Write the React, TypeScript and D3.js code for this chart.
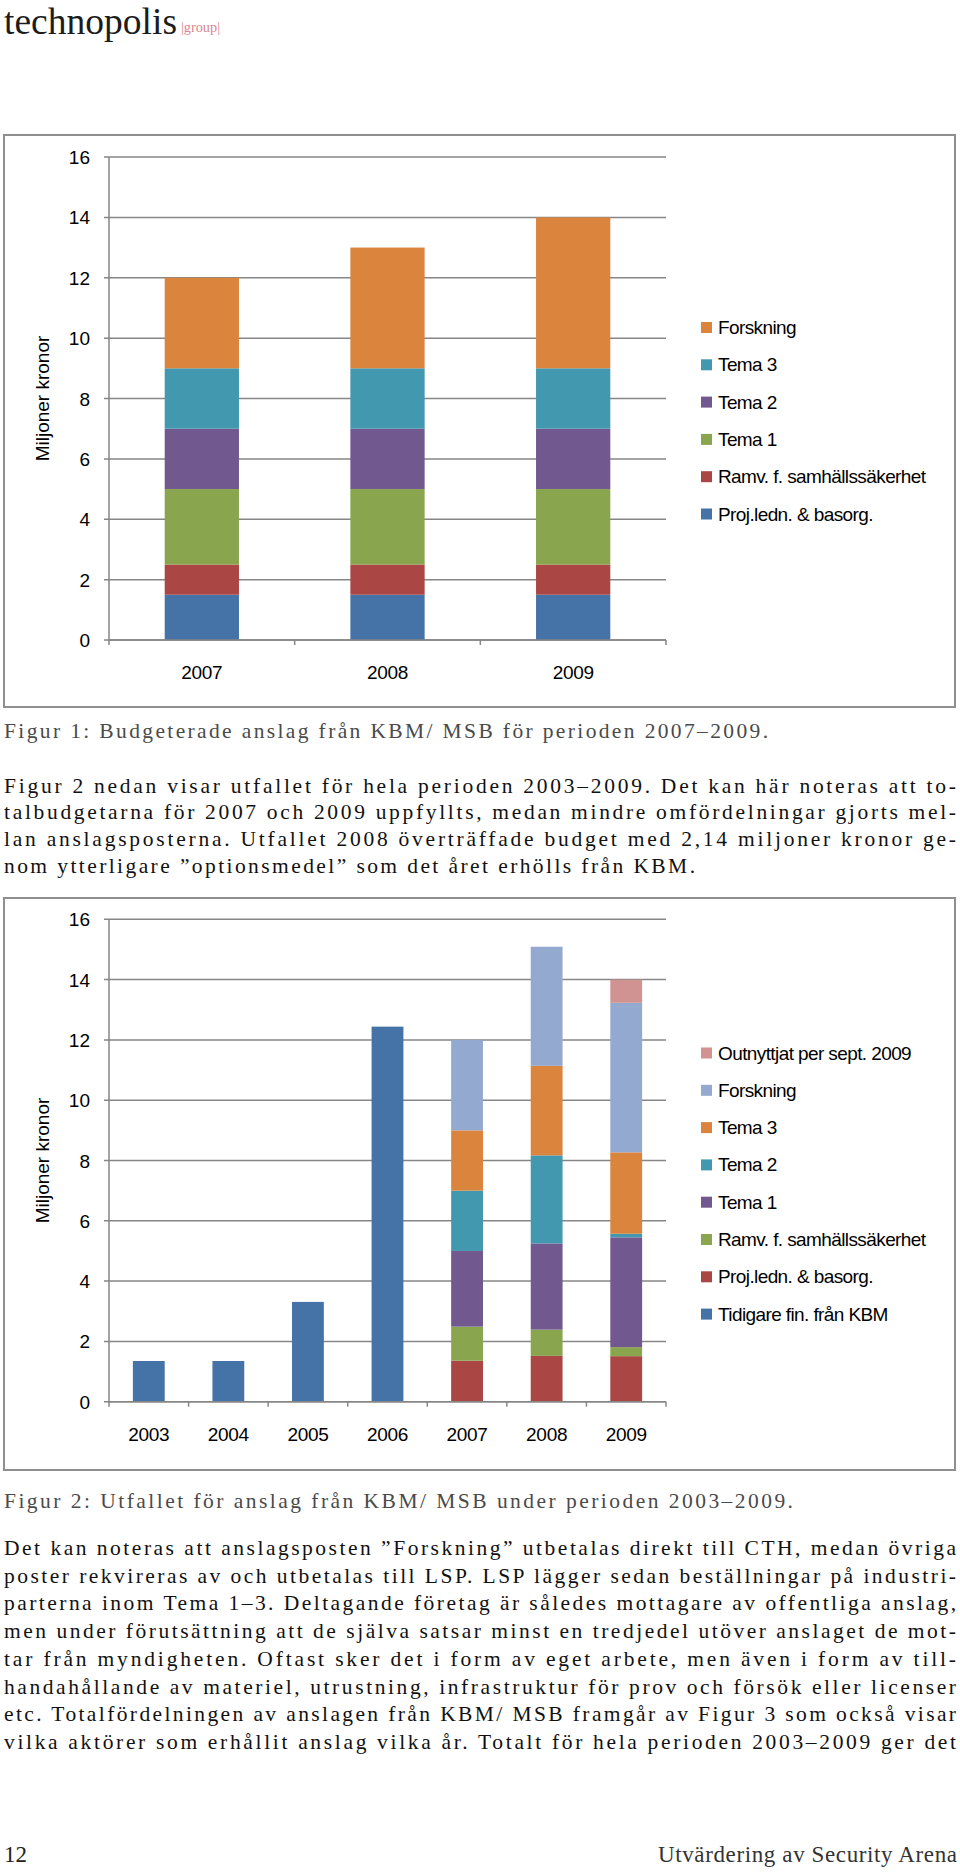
import React from "react";
import * as d3 from "d3";

// ---------- Figure 1 data ----------
const years1 = ["2007", "2008", "2009"];
const projLedn1 = [1.5, 1.5, 1.5];
const ramv1 = [1.0, 1.0, 1.0];
const temaEtt1 = [2.5, 2.5, 2.5];
const temaTva1 = [2.0, 2.0, 2.0];
const temaTre1 = [2.0, 2.0, 2.0];
const forskning1 = [3.0, 4.0, 5.0];

// ---------- Figure 2 data ----------
const years2 = ["2003", "2004", "2005", "2006", "2007", "2008", "2009"];
const tidigare2 = [1.35, 1.35, 3.31, 12.44, 0, 0, 0];
const projLedn2 = [0, 0, 0, 0, 1.36, 1.52, 1.51];
const ramv2 = [0, 0, 0, 0, 1.13, 0.87, 0.3];
const temaEtt2 = [0, 0, 0, 0, 2.51, 2.86, 3.64];
const temaTva2 = [0, 0, 0, 0, 2.0, 2.92, 0.12];
const temaTre2 = [0, 0, 0, 0, 2.0, 2.97, 2.7];
const forskning2 = [0, 0, 0, 0, 3.0, 3.95, 4.96];
const outnyttjat2 = [0, 0, 0, 0, 0, 0, 0.77];

const yTicks = [0, 2, 4, 6, 8, 10, 12, 14, 16];

const C = {
  blue: "#4572A7",
  red: "#AA4643",
  green: "#89A54E",
  purple: "#71588F",
  teal: "#4198AF",
  orange: "#DB843D",
  lightblue: "#93A9CF",
  pink: "#D19392",
};

const series1 = [
  { name: "Proj.ledn. & basorg.", color: C.blue, values: projLedn1 },
  { name: "Ramv. f. samhällssäkerhet", color: C.red, values: ramv1 },
  { name: "Tema 1", color: C.green, values: temaEtt1 },
  { name: "Tema 2", color: C.purple, values: temaTva1 },
  { name: "Tema 3", color: C.teal, values: temaTre1 },
  { name: "Forskning", color: C.orange, values: forskning1 },
];

const series2 = [
  { name: "Tidigare fin. från KBM", color: C.blue, values: tidigare2 },
  { name: "Proj.ledn. & basorg.", color: C.red, values: projLedn2 },
  { name: "Ramv. f. samhällssäkerhet", color: C.green, values: ramv2 },
  { name: "Tema 1", color: C.purple, values: temaEtt2 },
  { name: "Tema 2", color: C.teal, values: temaTva2 },
  { name: "Tema 3", color: C.orange, values: temaTre2 },
  { name: "Forskning", color: C.lightblue, values: forskning2 },
  { name: "Outnyttjat per sept. 2009", color: C.pink, values: outnyttjat2 },
];

// ---------- Text ----------
const caption1 = "Figur 1: Budgeterade anslag från KBM/ MSB för perioden 2007–2009.";
const para1 = [
  "Figur 2 nedan visar utfallet för hela perioden 2003–2009. Det kan här noteras att to-",
  "talbudgetarna för 2007 och 2009 uppfyllts, medan mindre omfördelningar gjorts mel-",
  "lan anslagsposterna. Utfallet 2008 överträffade budget med 2,14 miljoner kronor ge-",
  "nom ytterligare ”optionsmedel” som det året erhölls från KBM.",
];
const caption2 = "Figur 2: Utfallet för anslag från KBM/ MSB under perioden 2003–2009.";
const para2 = [
  "Det kan noteras att anslagsposten ”Forskning” utbetalas direkt till CTH, medan övriga",
  "poster rekvireras av och utbetalas till LSP. LSP lägger sedan beställningar på industri-",
  "parterna inom Tema 1–3. Deltagande företag är således mottagare av offentliga anslag,",
  "men under förutsättning att de själva satsar minst en tredjedel utöver anslaget de mot-",
  "tar från myndigheten. Oftast sker det i form av eget arbete, men även i form av till-",
  "handahållande av materiel, utrustning, infrastruktur för prov och försök eller licenser",
  "etc. Totalfördelningen av anslagen från KBM/ MSB framgår av Figur 3 som också visar",
  "vilka aktörer som erhållit anslag vilka år. Totalt för hela perioden 2003–2009 ger det",
];

const SANS = "'Liberation Sans', Arial, Helvetica, sans-serif";
const SERIF = "'Liberation Serif', 'Times New Roman', serif";

type Series = { name: string; color: string; values: number[] };

function StackedChart(props: {
  boxTop: number;
  boxBottom: number;
  y0: number;
  y16: number;
  categories: string[];
  series: Series[];
  legendFirst: number;
}) {
  const { boxTop, boxBottom, y0, y16, categories, series, legendFirst } = props;
  const left = 109;
  const right = 666;
  const x = d3
    .scaleBand<string>()
    .domain(categories)
    .range([left, right])
    .paddingInner(0.6)
    .paddingOuter(0.3);
  const y = d3.scaleLinear().domain([0, 16]).range([y0, y16]);
  const rows = categories.map((c, i) => {
    const o: any = { cat: c };
    series.forEach((s, k) => (o["s" + k] = s.values[i]));
    return o;
  });
  const stack = d3.stack<any>().keys(series.map((_, k) => "s" + k));
  const layers = stack(rows);
  const step = x.step();
  const boundaries = d3.range(categories.length + 1).map((i) => left + i * step);
  const gridColor = "#868686";
  const legendItems = series.slice().reverse();
  const legendStep = 37.3;
  return (
    <g>
      <rect
        x={4}
        y={boxTop}
        width={951}
        height={boxBottom - boxTop}
        fill="#fff"
        stroke="#8f8f8f"
        strokeWidth={2}
      />
      {yTicks.map((t) => (
        <g key={t}>
          <line x1={left - 5} x2={right} y1={y(t)} y2={y(t)} stroke={gridColor} strokeWidth={1.5} />
          <text
            x={90}
            y={y(t) + 7}
            textAnchor="end"
            fontFamily={SANS}
            fontSize={19}
            fill="#000"
          >
            {t}
          </text>
        </g>
      ))}
      {layers.map((layer, k) => (
        <g key={k} fill={series[k].color}>
          {layer.map((d, i) =>
            d[1] - d[0] > 0 ? (
              <rect
                key={i}
                x={x(categories[i])}
                width={x.bandwidth()}
                y={y(d[1])}
                height={y(d[0]) - y(d[1])}
              />
            ) : null
          )}
        </g>
      ))}
      <line x1={left} x2={left} y1={y(16)} y2={y(0)} stroke={gridColor} strokeWidth={1.5} />
      <line x1={left} x2={right} y1={y(0)} y2={y(0)} stroke={gridColor} strokeWidth={1.5} />
      {boundaries.map((b, i) => (
        <line key={i} x1={b} x2={b} y1={y(0)} y2={y(0) + 5} stroke={gridColor} strokeWidth={1.5} />
      ))}
      {categories.map((c) => (
        <text
          key={c}
          x={(x(c) as number) + x.bandwidth() / 2}
          y={y(0) + 39}
          textAnchor="middle"
          fontFamily={SANS}
          fontSize={19}
          letterSpacing="-0.3px"
          fill="#000"
        >
          {c}
        </text>
      ))}
      <text
        transform={`translate(49,${(y(0) + y(16)) / 2}) rotate(-90)`}
        textAnchor="middle"
        fontFamily={SANS}
        fontSize={19}
        fill="#000"
      >
        Miljoner kronor
      </text>
      {legendItems.map((s, i) => {
        const base = legendFirst + i * legendStep;
        return (
          <g key={s.name}>
            <rect x={701} y={base - 12} width={11} height={11} fill={s.color} />
            <text
              x={718}
              y={base}
              fontFamily={SANS}
              fontSize={19}
              letterSpacing="-0.6px"
              fill="#000"
            >
              {s.name}
            </text>
          </g>
        );
      })}
    </g>
  );
}

export default function App() {
  const bodyX = 4;
  const bodyW = 952;
  return (
    <div style={{ position: "absolute", left: 0, top: 0 }}>
      <svg width={960} height={1872} style={{ display: "block", background: "#fff" }}>
        <text
          x={4}
          y={34}
          fontFamily={SERIF}
          fontSize={38}
          fill="#1c1c1c"
          textLength={173}
          lengthAdjust="spacingAndGlyphs"
        >
          technopolis
        </text>
        <text
          x={181}
          y={32}
          fontFamily={SERIF}
          fontSize={14}
          fill="#d9868e"
          textLength={39}
          lengthAdjust="spacingAndGlyphs"
        >
          |group|
        </text>

        <StackedChart
          boxTop={135}
          boxBottom={707}
          y0={640}
          y16={157}
          categories={years1}
          series={series1}
          legendFirst={334}
        />

        <text
          x={bodyX}
          y={738}
          fontFamily={SERIF}
          fontSize={21.5}
          fill="#4a4a4a"
          textLength={764}
          lengthAdjust="spacing"
        >
          {caption1}
        </text>

        {para1.map((l, i) => (
          <text
            key={i}
            x={bodyX}
            y={792.5 + i * 26.7}
            fontFamily={SERIF}
            fontSize={21.5}
            fill="#111"
            textLength={i === para1.length - 1 ? 691 : bodyW}
            lengthAdjust="spacing"
          >
            {l}
          </text>
        ))}

        <StackedChart
          boxTop={898}
          boxBottom={1470}
          y0={1401.7}
          y16={919.3}
          categories={years2}
          series={series2}
          legendFirst={1059.5}
        />

        <text
          x={bodyX}
          y={1508}
          fontFamily={SERIF}
          fontSize={21.5}
          fill="#4a4a4a"
          textLength={789}
          lengthAdjust="spacing"
        >
          {caption2}
        </text>

        {para2.map((l, i) => (
          <text
            key={i}
            x={bodyX}
            y={1555 + i * 27.7}
            fontFamily={SERIF}
            fontSize={21.5}
            fill="#111"
            textLength={bodyW}
            lengthAdjust="spacing"
          >
            {l}
          </text>
        ))}

        <text x={4} y={1862} fontFamily={SERIF} fontSize={23} fill="#222">
          12
        </text>
        <text
          x={957}
          y={1862}
          textAnchor="end"
          fontFamily={SERIF}
          fontSize={23}
          fill="#333"
          textLength={299}
          lengthAdjust="spacing"
        >
          Utvärdering av Security Arena
        </text>
      </svg>
    </div>
  );
}
